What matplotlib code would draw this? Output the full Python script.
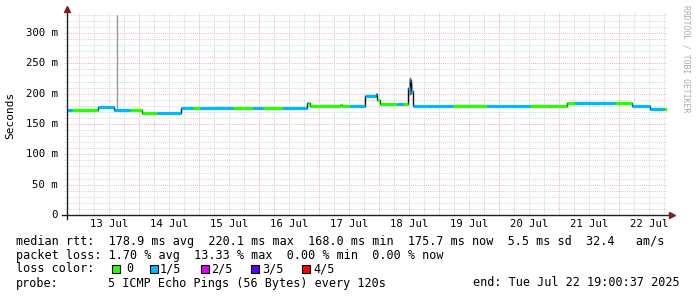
import matplotlib
matplotlib.use("Agg")
import matplotlib.pyplot as plt
from matplotlib.patches import Rectangle

W, H = 697, 297
MONO = "DejaVu Sans Mono"

# median rtt levels (ms), each level starts at the given hour after 12 Jul 19:00:37
level_start = [0, 12.6, 19, 30.2, 45.8, 96.2, 97.4, 109.4, 110.2, 119.4, 123.6, 124.2,
               125.4, 136.6, 137.2, 137.8, 138.6, 200.2, 226.2, 233.4]
level_ms = [173, 178, 173, 168, 177, 184, 180, 182, 180, 196, 200, 190,
            183, 210, 222, 205, 180, 185, 180, 175.5]
end_hour = 240

# loss runs: start hour and number of lost pings (out of 5)
loss_start = [0, 2.2, 12.6, 25.4, 36.2, 50.6, 53.4, 66.6, 74.6, 78.6, 86.6, 96.6,
              113.4, 124.2, 132.2, 134.6, 136.6, 154.6, 168.2, 185.4, 203.4, 219.4,
              226.2, 239]
loss_n = [1, 0, 1, 0, 1, 0, 1, 0, 1, 0, 1, 0,
          1, 0, 1, 0, 1, 0, 1, 0, 1, 0,
          1, 0]

# smoke (ping spread): hour, low, high (ms)
smoke_hour = [20.2, 137.0, 137.6, 138.2]
smoke_lo = [173, 195, 200, 198]
smoke_hi = [330, 226, 228, 215]

loss_colors = ["#26ff00", "#00b8ff", "#dd00ff", "#5e00ff", "#ff0000"]
loss_labels = ["0", "1/5", "2/5", "3/5", "4/5"]

day_names = ["13 Jul", "14 Jul", "15 Jul", "16 Jul", "17 Jul",
             "18 Jul", "19 Jul", "20 Jul", "21 Jul", "22 Jul"]
first_midnight = 4.99  # hours from start to 13 Jul 00:00

fig = plt.figure(figsize=(W / 100, H / 100), dpi=100)
fig.patch.set_facecolor("white")
left, right, top, bottom = 66.5, 666.5, 12, 215
ax = fig.add_axes([left / W, (H - bottom) / H, (right - left) / W, (bottom - top) / H])
ymax = 300 * (bottom - top) / (bottom - 33)
ax.set_xlim(0, end_hour)
ax.set_ylim(0, ymax)
for s in ax.spines.values():
    s.set_visible(False)
ax.set_xticks([])
ax.set_yticks([])

minor_col = "#d2d2d2"
major_col = "#f2acac"
dots = (0, (1, 1.2))

# grid
for v in range(10, 340, 10):
    if v > ymax:
        break
    c = major_col if v % 50 == 0 else minor_col
    ax.plot([-0.9, end_hour], [v, v], color=c, lw=0.7, ls=dots, clip_on=False, zorder=1)
h = first_midnight - 6
while h < end_hour:
    if h > 0:
        major = abs((h - first_midnight) % 24) < 1e-6
        ax.plot([h, h], [0, ymax], color=major_col if major else minor_col,
                lw=0.7, ls=dots, zorder=1)
    h += 6

# smoke
ax.vlines(smoke_hour[:1], smoke_lo[:1], smoke_hi[:1], color="#9a9a9a", lw=1, zorder=2)
ax.fill_between(smoke_hour[1:], smoke_lo[1:], smoke_hi[1:], color="#6a6a6a", lw=0, zorder=2)

# median: dark step joins, then colored by loss
edges = level_start + [end_hour]
ax.step(edges, level_ms + [level_ms[-1]], where="post", color="#111111", lw=1, zorder=3)
loss_edges = loss_start + [end_hour]
for i, v in enumerate(level_ms):
    for j, n in enumerate(loss_n):
        lo = max(edges[i], loss_edges[j])
        hi = min(edges[i + 1], loss_edges[j + 1])
        if hi > lo:
            ax.hlines(v, lo, hi, color=loss_colors[n], lw=2.3, zorder=4)

# axes with arrows
px_h = end_hour / (right - left)
px_v = ymax / (bottom - top)
ax.plot([-4.5 * px_h, 242], [0, 0], color="#1f1f1f", lw=1, clip_on=False, zorder=5)
ax.plot([0, 0], [-4 * px_v, ymax + 2 * px_v], color="#1f1f1f", lw=1, clip_on=False, zorder=5)
ax.plot([end_hour + 5 * px_h], [0], marker=">", ms=4, color="#801f1f", clip_on=False, zorder=6)
ax.plot([0], [ymax + 3 * px_v], marker="^", ms=4, color="#801f1f", clip_on=False, zorder=6)

# tick labels
for v in range(0, 301, 50):
    lab = "0" if v == 0 else f"{v} m"
    ax.text(-8.5 * px_h, v, lab, ha="right", va="center", fontsize=7.7, family=MONO)
for k, d in enumerate(day_names):
    ax.text(first_midnight + 12 + 24 * k, -9 * px_v, d, ha="center", va="center",
            fontsize=7.7, family=MONO)


def fx(x):
    return x / W


def fy(y):
    return (H - y) / H


fig.text(fx(10.5), fy(115), "Seconds", rotation=90, ha="center", va="center",
         fontsize=8, family=MONO)
fig.text(fx(686), fy(59), "RRDTOOL / TOBI OETIKER", rotation=270, ha="center",
         va="center", fontsize=5.9, family=MONO, color="#ababab")

fs = 8.45
fig.text(fx(16), fy(241), "median rtt:  178.9 ms avg  220.1 ms max  168.0 ms min  "
         "175.7 ms now  5.5 ms sd  32.4   am/s", ha="left", va="center", fontsize=fs, family=MONO)
fig.text(fx(16), fy(255), "packet loss: 1.70 % avg  13.33 % max  0.00 % min  0.00 % now",
         ha="left", va="center", fontsize=fs, family=MONO)
fig.text(fx(16), fy(269), "loss color:", ha="left", va="center", fontsize=fs, family=MONO)
box_x = [112, 150, 200.5, 251, 302]
lab_x = [126, 160, 211, 262, 313]
for bx, lx, c, t in zip(box_x, lab_x, loss_colors, loss_labels):
    fig.patches.append(Rectangle((fx(bx), fy(273)), 8 / W, 8 / H, transform=fig.transFigure,
                                 facecolor=c, edgecolor="black", lw=0.8))
    fig.text(fx(lx), fy(269), t, ha="left", va="center", fontsize=fs, family=MONO)
fig.text(fx(16), fy(283), "probe:", ha="left", va="center", fontsize=fs, family=MONO)
fig.text(fx(108), fy(283), "5 ICMP Echo Pings (56 Bytes) every 120s", ha="left",
         va="center", fontsize=fs, family=MONO)
fig.text(fx(680), fy(283), "end: Tue Jul 22 19:00:37 2025", ha="right", va="center",
         fontsize=fs, family=MONO)

fig.savefig("out.png", dpi=100)
